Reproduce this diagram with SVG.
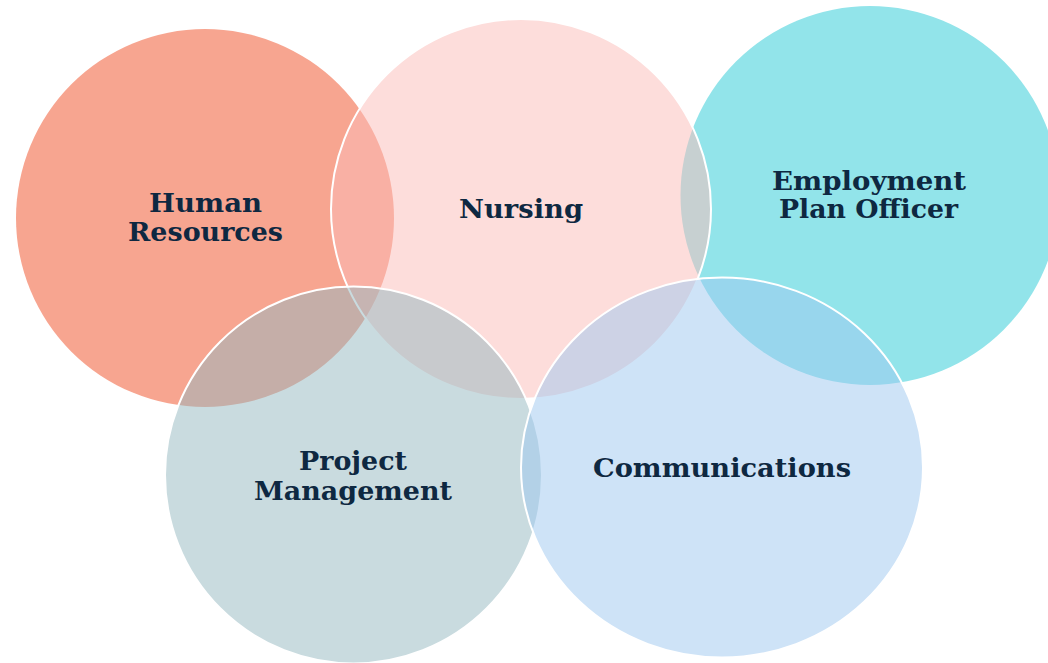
<svg xmlns="http://www.w3.org/2000/svg" width="1048" height="663" viewBox="0 0 1048 663">
<style>
.lbl{font-family:"DejaVu Serif","Liberation Serif",serif;font-weight:bold;font-size:26px;fill:#0E2841;text-anchor:middle}
.edge{stroke:#FFFFFF;stroke-width:2}
</style>
<rect width="1048" height="663" fill="#FFFFFF"/>
<g id="human-resources">
<circle cx="205" cy="218" r="189" fill="#F7A590"/>
</g>
<g id="employment-plan-officer">
<circle cx="870" cy="195.5" r="189.5" fill="#92E4EA"/>
</g>
<g id="nursing">
<circle cx="521" cy="209" r="190" fill="#FBBCB8" fill-opacity="0.5" class="edge"/>
</g>
<g id="project-management">
<circle cx="353.5" cy="475" r="188.5" fill="#93B8BF" fill-opacity="0.5" class="edge"/>
</g>
<g id="communications">
<ellipse cx="722" cy="467.5" rx="201" ry="190" fill="#9DC7EF" fill-opacity="0.5" class="edge"/>
</g>
<g id="connectors"></g>
<g id="labels">
<text class="lbl" x="205.5" y="212" textLength="113" lengthAdjust="spacingAndGlyphs">Human</text>
<text class="lbl" x="205.5" y="241" textLength="155" lengthAdjust="spacingAndGlyphs">Resources</text>
<text class="lbl" x="521" y="218" textLength="124" lengthAdjust="spacingAndGlyphs">Nursing</text>
<text class="lbl" x="869" y="190" textLength="194" lengthAdjust="spacingAndGlyphs">Employment</text>
<text class="lbl" x="868.5" y="218" textLength="179" lengthAdjust="spacingAndGlyphs">Plan Officer</text>
<text class="lbl" x="353" y="470" textLength="108" lengthAdjust="spacingAndGlyphs">Project</text>
<text class="lbl" x="353" y="500" textLength="198" lengthAdjust="spacingAndGlyphs">Management</text>
<text class="lbl" x="722" y="477" textLength="258" lengthAdjust="spacingAndGlyphs">Communications</text>
</g>
</svg>
